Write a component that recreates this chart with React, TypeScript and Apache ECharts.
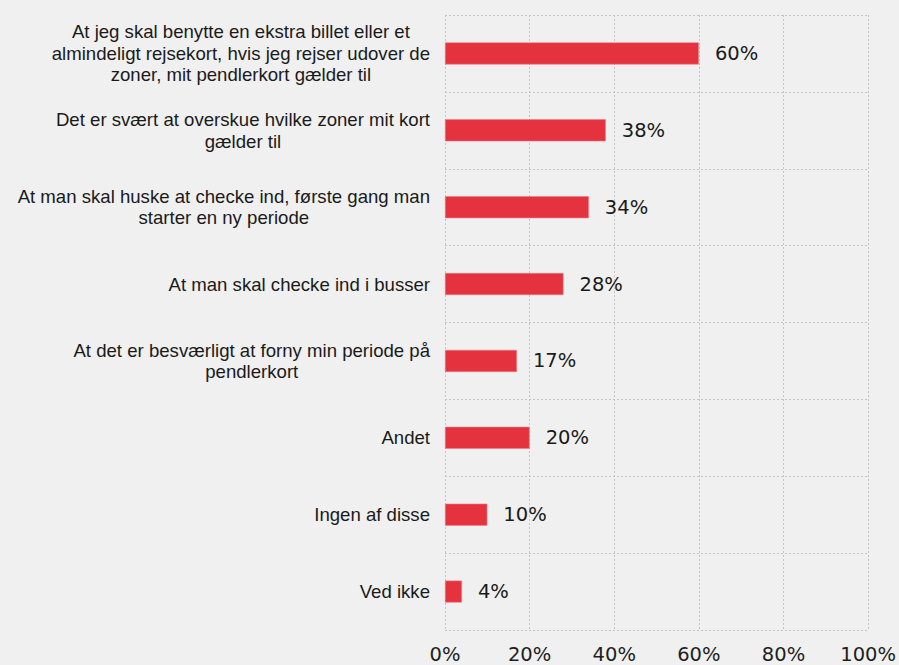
import React, { useEffect, useRef } from "react";
import * as echarts from "echarts";

const categories: string[] = [
  "At jeg skal benytte en ekstra billet eller et\nalmindeligt rejsekort, hvis jeg rejser udover de\nzoner, mit pendlerkort gælder til",
  "Det er svært at overskue hvilke zoner mit kort\ngælder til",
  "At man skal huske at checke ind, første gang man\nstarter en ny periode",
  "At man skal checke ind i busser",
  "At det er besværligt at forny min periode på\npendlerkort",
  "Andet",
  "Ingen af disse",
  "Ved ikke",
];

const values: number[] = [60, 38, 34, 28, 17, 20, 10, 4];

const xTicks: number[] = [0, 20, 40, 60, 80, 100];

export default function App() {
  const ref = useRef<HTMLDivElement>(null);

  useEffect(() => {
    if (!ref.current) return;
    const chart = echarts.init(ref.current, null, { renderer: "svg" });
    const gridColor = "#c4c4c4";
    chart.setOption({
      animation: false,
      backgroundColor: "#f0f0f0",
      grid: { left: 445, right: 30, top: 15, bottom: 35, containLabel: false },
      xAxis: {
        type: "value",
        min: xTicks[0],
        max: xTicks[xTicks.length - 1],
        interval: 20,
        axisLine: { show: false },
        axisTick: { show: false },
        splitLine: { show: true, lineStyle: { color: gridColor, type: [2, 2], width: 1 } },
        axisLabel: {
          formatter: (v: number) => `${v}%`,
          fontFamily: "DejaVu Sans",
          fontSize: 19.5,
          color: "#1e1e1e",
          margin: 14,
        },
      },
      yAxis: {
        type: "category",
        data: categories,
        inverse: true,
        axisLine: { show: false },
        axisTick: { show: false },
        splitLine: { show: true, lineStyle: { color: gridColor, type: [2, 2], width: 1 } },
        axisLabel: {
          margin: 15,
          align: "right",
          formatter: (v: string) =>
            v
              .split("\n")
              .map((l) => `{c|${l}}`)
              .join("\n"),
          rich: {
            c: {
              align: "center",
              fontFamily: "Liberation Sans",
              fontSize: 18.6,
              lineHeight: 21.5,
              color: "#1a1a1a",
            },
          },
        },
      },
      series: [
        {
          type: "bar",
          data: values,
          barWidth: 22,
          itemStyle: { color: "#e4323f", borderColor: "#ee7a84", borderWidth: 0.6 },
          label: {
            show: true,
            position: "right",
            distance: 16,
            formatter: (p: any) => `${p.value}%`,
            fontFamily: "DejaVu Sans",
            fontSize: 19.5,
            color: "#1a1a1a",
          },
        },
      ],
    });
    return () => chart.dispose();
  }, []);

  return (
    <div
      ref={ref}
      style={{ position: "fixed", left: 0, top: 0, width: 899, height: 665, background: "#f0f0f0" }}
    />
  );
}
